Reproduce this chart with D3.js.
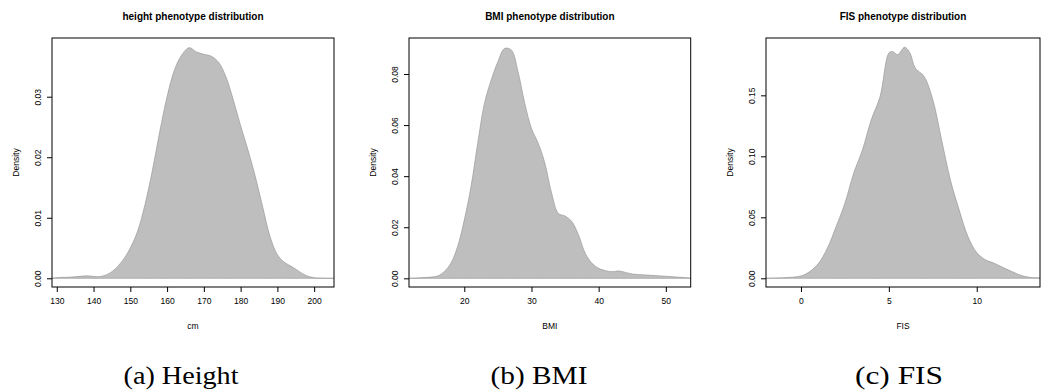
<!DOCTYPE html>
<html>
  <head>
    <title>phenotype distributions</title>
    <script src="https://d3js.org/d3.v7.min.js" charset="utf-8"></script>
    <style type="text/css">
      body { margin: 0; background: #fff; }
      .tick text { font-family: "Liberation Sans", Arial, sans-serif; font-size: 8.5px; fill: #000; }
      .tick line { stroke: #000; }
      .caption { font-family: "Times New Roman", Times, "Liberation Serif", "Nimbus Roman", serif; font-size: 25px; }
    </style>
  </head>
  <body>
    <script type="text/javascript">

      // density curves (x value, density)
      var heightX = [128.7, 130, 134, 138, 142, 145, 148, 150, 152, 154, 156, 158, 160, 162, 164, 166, 168, 170, 172, 174, 176, 178, 180, 182, 184, 186, 188, 190, 192, 194, 196, 198, 200, 205.4];
      var heightY = [0, 0.0001, 0.0002, 0.0004, 0.0003, 0.0011, 0.003, 0.005, 0.0078, 0.0122, 0.0178, 0.0242, 0.0300, 0.0344, 0.0369, 0.0381, 0.0374, 0.0370, 0.0367, 0.0357, 0.0333, 0.0295, 0.0252, 0.0212, 0.0168, 0.0118, 0.0069, 0.0039, 0.0026, 0.0019, 0.0011, 0.0004, 0.0001, 0];

      var bmiX = [11.77, 14, 16, 17, 18, 19, 20, 21, 22, 23, 24, 25, 26, 27, 28, 29, 30, 31, 32, 33, 34, 35, 36, 37, 38, 39, 40, 41, 42, 43, 44, 45, 47, 50, 53.7];
      var bmiY = [0, 0.0003, 0.0009, 0.0026, 0.0059, 0.0124, 0.0228, 0.0359, 0.0529, 0.0685, 0.0776, 0.0848, 0.0900, 0.0894, 0.0809, 0.0685, 0.0587, 0.0529, 0.0450, 0.0333, 0.0254, 0.0244, 0.0222, 0.0170, 0.0098, 0.0059, 0.0039, 0.0030, 0.0026, 0.0029, 0.0023, 0.0017, 0.0013, 0.0008, 0.0001];

      var fisX = [-1.99, -1, 0, 0.5, 1, 1.5, 2, 2.5, 3, 3.5, 4, 4.5, 5, 5.2, 5.5, 5.9, 6.2, 6.5, 7, 7.5, 8, 8.5, 9, 9.5, 10, 10.5, 11, 11.5, 12, 12.5, 13, 13.6];
      var fisY = [0, 0.0005, 0.0019, 0.0055, 0.0123, 0.0246, 0.0424, 0.0616, 0.0862, 0.1054, 0.1300, 0.1490, 0.1847, 0.1860, 0.1834, 0.1894, 0.1847, 0.1724, 0.1656, 0.1464, 0.1136, 0.0807, 0.0561, 0.0342, 0.0211, 0.0151, 0.0123, 0.0088, 0.0055, 0.0025, 0.0008, 0.0003];

      // tick values
      var heightXTicks = [130, 140, 150, 160, 170, 180, 190, 200];
      var heightYTicks = [0, 0.01, 0.02, 0.03];
      var bmiXTicks = [20, 30, 40, 50];
      var bmiYTicks = [0, 0.02, 0.04, 0.06, 0.08];
      var fisXTicks = [0, 5, 10];
      var fisYTicks = [0, 0.05, 0.10, 0.15];

      var titles = ["height phenotype distribution", "BMI phenotype distribution", "FIS phenotype distribution"];
      var xLabels = ["cm", "BMI", "FIS"];
      var captions = ["(a) Height", "(b) BMI", "(c) FIS"];

      var width = 1041;
      var height = 392;
      var svg = d3.select("body")
          .append("svg")
          .attr("width", width)
          .attr("height", height);

      // panel layout
      var panels = [
        { xs: heightX, ys: heightY, xt: heightXTicks, yt: heightYTicks,
          left: 52, right: 334, xdom: [128.7, 205.4], ydom: [-0.00144, 0.0397], cap: 181, capW: 115 },
        { xs: bmiX, ys: bmiY, xt: bmiXTicks, yt: bmiYTicks,
          left: 409, right: 690.7, xdom: [11.77, 53.7], ydom: [-0.0034, 0.0941], cap: 539, capW: 97 },
        { xs: fisX, ys: fisY, xt: fisXTicks, yt: fisYTicks,
          left: 766, right: 1040, xdom: [-1.99, 13.6], ydom: [-0.00714, 0.197], cap: 899, capW: 88 }
      ];
      var plotTop = 38, plotBottom = 287;

      panels.forEach(function(p, i) {
        var x = d3.scaleLinear().domain(p.xdom).range([p.left, p.right]);
        var y = d3.scaleLinear().domain(p.ydom).range([plotBottom, plotTop]);
        var pts = p.xs.map(function(v, k) { return [v, p.ys[k]]; });

        // filled density
        var area = d3.area()
            .x(function(d) { return x(d[0]); })
            .y0(y(0))
            .y1(function(d) { return y(d[1]); })
            .curve(d3.curveCatmullRom.alpha(0.5));
        svg.append("path")
            .datum(pts)
            .attr("d", area)
            .style("fill", "#bebebe")
            .style("stroke", "#9a9a9a")
            .style("stroke-width", 0.7);

        // box
        svg.append("rect")
            .attr("x", p.left).attr("y", plotTop)
            .attr("width", p.right - p.left).attr("height", plotBottom - plotTop)
            .style("fill", "none").style("stroke", "#000").style("stroke-width", 1);

        // x axis
        var gx = svg.append("g")
            .attr("transform", "translate(0," + plotBottom + ")")
            .call(d3.axisBottom(x).tickValues(p.xt).tickSize(5).tickPadding(6).tickFormat(d3.format("d")));
        gx.select(".domain").remove();

        // y axis, labels turned like R
        var gy = svg.append("g")
            .attr("transform", "translate(" + p.left + ",0)")
            .call(d3.axisLeft(y).tickValues(p.yt).tickSize(5).tickFormat(d3.format(".2f")));
        gy.select(".domain").remove();
        gy.selectAll(".tick text")
            .attr("transform", "rotate(-90)")
            .attr("x", 0).attr("y", -11).attr("dy", 0)
            .attr("text-anchor", "middle");

        var mid = (p.left + p.right) / 2;
        svg.append("text")
            .attr("x", mid).attr("y", 19.5)
            .attr("text-anchor", "middle")
            .style("font-family", "'Liberation Sans', Arial, sans-serif")
            .style("font-weight", "bold").style("font-size", "10px")
            .text(titles[i]);

        svg.append("text")
            .attr("x", mid).attr("y", 329)
            .attr("text-anchor", "middle")
            .style("font-family", "'Liberation Sans', Arial, sans-serif")
            .style("font-size", "8.5px")
            .text(xLabels[i]);

        svg.append("text")
            .attr("transform", "translate(" + (p.left - 33) + "," + ((plotTop + plotBottom) / 2) + ") rotate(-90)")
            .attr("text-anchor", "middle")
            .style("font-family", "'Liberation Sans', Arial, sans-serif")
            .style("font-size", "8.5px")
            .text("Density");

        svg.append("text")
            .attr("class", "caption")
            .attr("x", p.cap).attr("y", 384)
            .attr("text-anchor", "middle")
            .attr("textLength", p.capW)
            .attr("lengthAdjust", "spacingAndGlyphs")
            .text(captions[i]);
      });

    </script>
  </body>
</html>
